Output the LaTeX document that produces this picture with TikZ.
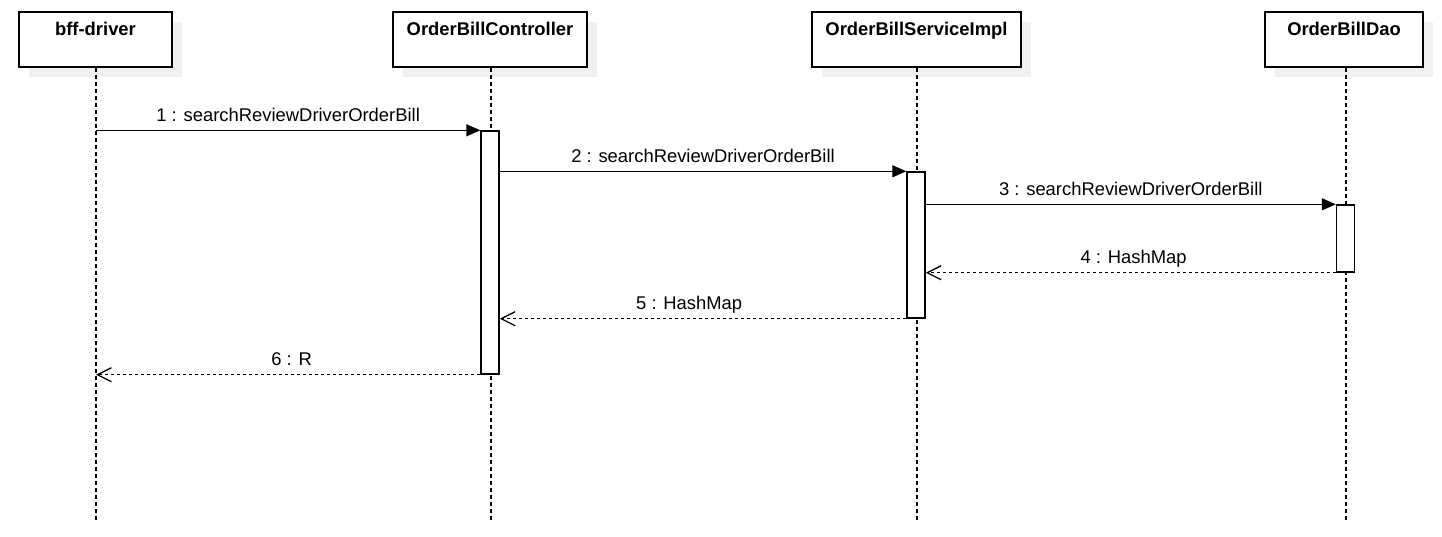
\documentclass[tikz,border=0pt]{standalone}
\usepackage{fontspec}
\setmainfont{Liberation Sans}
\usetikzlibrary{arrows.meta,shadows}
\definecolor{shadowgray}{HTML}{F0F0F0}
\tikzset{
  headbox/.style={draw=black, line width=1.5pt, fill=white,
    general shadow={fill=shadowgray, shadow xshift=10pt, shadow yshift=-10pt},
    inner xsep=0pt, inner ysep=0pt, text height=23.5pt, text depth=31.5pt,
    font=\fontsize{18.4}{22}\selectfont\bfseries},
  lifeline/.style={line width=1.2pt, dash pattern=on 4pt off 3pt},
  actbox/.style={draw=black, line width=1.4pt, fill=white, minimum width=18pt,
    inner sep=0pt},
  callmsg/.style={line width=1.4pt, -{Triangle[length=14pt,width=12pt]}},
  returnmsg/.style={line width=1.2pt, dash pattern=on 3pt off 3pt,
    -{Straight Barb[length=14pt,width=14pt,line width=1.3pt]}},
  msglabel/.style={anchor=base, yshift=9.3pt, inner sep=0pt,
    font=\fontsize{18.4}{22}\selectfont}
}
\begin{document}
\begin{tikzpicture}[x=1pt, y=-1pt]
  \useasboundingbox (0,0) rectangle (1442,536);

  % participants
  \node[headbox, minimum width=153pt] (bff)  at (95.5,39.5)  {bff-driver};
  \node[headbox, minimum width=194pt] (ctrl) at (490,39.5)   {OrderBillController};
  \node[headbox, minimum width=209pt] (svc)  at (916.5,39.5) {OrderBillServiceImpl};
  \node[headbox, minimum width=158pt] (dao)  at (1344,39.5)  {OrderBillDao};

  % lifeline ends
  \coordinate (bffend)  at (96,522);
  \coordinate (ctrlend) at (491,522);
  \coordinate (svcend)  at (917,522);
  \coordinate (daoend)  at (1346,522);

  \draw[lifeline] (bff.south -| bffend)   -- (bffend);
  \draw[lifeline] (ctrl.south -| ctrlend) -- (ctrlend);
  \draw[lifeline] (svc.south -| svcend)   -- (svcend);
  \draw[lifeline] (dao.south -| daoend)   -- (daoend);

  % activations
  \node[actbox, minimum height=243pt] (act1) at (490,252.5)  {};
  \node[actbox, minimum height=146pt] (act2) at (916,245)    {};
  \node[actbox, minimum height=67pt]  (act3) at (1345.5,238.5) {};

  % messages
  \draw[callmsg] (act1.north west -| bffend) -- (act1.north west)
    node[msglabel, pos=0.5] {1 : searchReviewDriverOrderBill};
  \draw[callmsg] (act2.north west -| act1.east) -- (act2.north west)
    node[msglabel, pos=0.5] {2 : searchReviewDriverOrderBill};
  \draw[callmsg] (act3.north west -| act2.east) -- (act3.north west)
    node[msglabel, pos=0.5] {3 : searchReviewDriverOrderBill};
  \draw[returnmsg] (act3.south west) -- (act3.south west -| act2.east)
    node[msglabel, pos=0.493] {4 : HashMap};
  \draw[returnmsg] (act2.south west) -- (act2.south west -| act1.east)
    node[msglabel, pos=0.534] {5 : HashMap};
  \draw[returnmsg] (act1.south west) -- (act1.south west -| bffend)
    node[msglabel, pos=0.491] {6 : R};
\end{tikzpicture}
\end{document}
